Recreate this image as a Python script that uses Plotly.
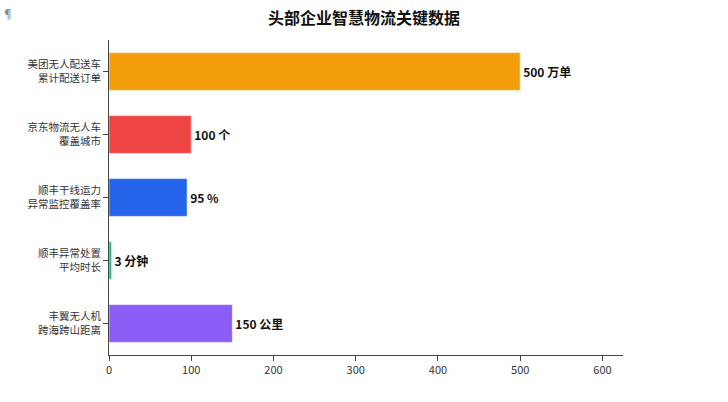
import plotly.graph_objects as go

categories = ["美团无人配送车<br>累计配送订单", "京东物流无人车<br>覆盖城市", "顺丰干线运力<br>异常监控覆盖率",
              "顺丰异常处置<br>平均时长", "丰翼无人机<br>跨海跨山距离"]
values = [500, 100, 95, 3, 150]
units = ["万单", "个", "%", "分钟", "公里"]
colors = ["#F59E0B", "#EF4444", "#2563EB", "#10B981", "#8B5CF6"]
labels = [f"{v} {u}" for v, u in zip(values, units)]

FONT = "Noto Sans CJK SC, Open Sans, sans-serif"

fig = go.Figure(go.Bar(
    x=values, y=categories, orientation="h",
    marker=dict(color=colors, line=dict(color="rgba(255,255,255,0.6)", width=1)),
    width=0.6,
    text=labels, textposition="outside", cliponaxis=False,
    textfont=dict(family=FONT, size=12, color="#111111", weight="bold"),
))

fig.update_layout(
    width=728, height=402,
    margin=dict(l=109, r=105, t=40, b=47),
    paper_bgcolor="white", plot_bgcolor="white",
    font=dict(family=FONT, size=11, color="#333333"),
    title=dict(text="<b>头部企业智慧物流关键数据</b>", x=0.5, xanchor="center", y=0.955, yanchor="middle",
               font=dict(size=16, color="#111111", family=FONT)),
    showlegend=False,
    annotations=[dict(text="¶", xref="paper", yref="paper", x=-0.196, y=1.085,
                      xanchor="center", yanchor="middle", showarrow=False,
                      font=dict(size=12, color="#888888"))],
)

fig.update_xaxes(range=[0, 625], tickvals=[0, 100, 200, 300, 400, 500, 600], showgrid=False,
                 showline=True, linecolor="#444444", linewidth=1, ticks="outside", ticklen=5,
                 tickcolor="#444444", zeroline=False, tickfont=dict(size=11, color="#333333"))
fig.update_yaxes(autorange="reversed", showgrid=False, showline=True, linecolor="#444444", linewidth=1,
                 ticks="outside", ticklen=5, tickcolor="#444444", tickfont=dict(size=10.5, color="#333333"))

fig.write_html("out.html")
